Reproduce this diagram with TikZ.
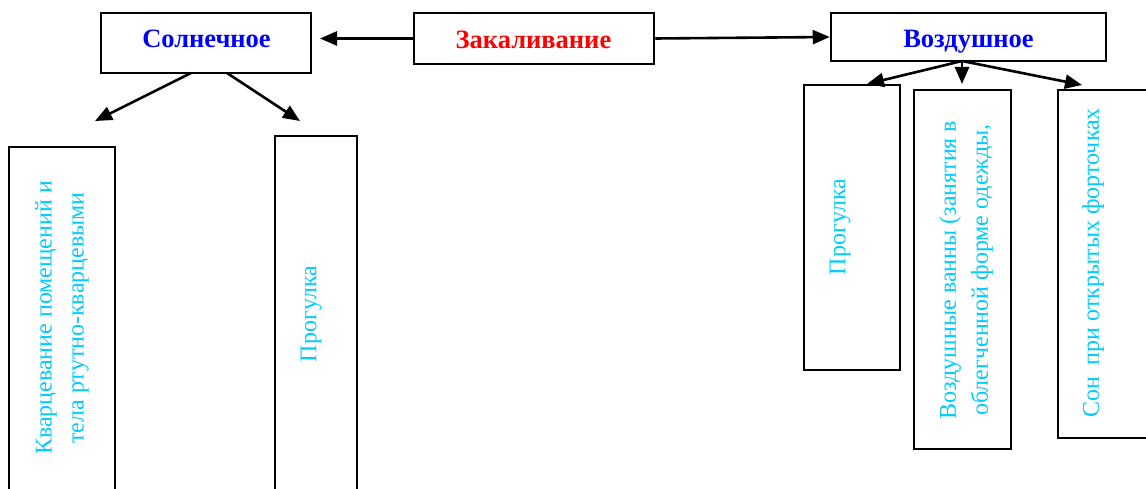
\documentclass[tikz,border=0pt]{standalone}
\usepackage{fontspec}
\setmainfont{Liberation Serif}
\usetikzlibrary{arrows.meta}
\definecolor{titleblue}{RGB}{0,0,255}
\definecolor{titlered}{RGB}{255,0,0}
\definecolor{itemcyan}{RGB}{0,204,255}
\begin{document}
\begin{tikzpicture}[x=1pt,y=-1pt,
  box/.style={draw,line width=2.5pt,inner sep=0pt},
  titletext/.style={font=\fontsize{26.5}{30}\selectfont\bfseries,anchor=base,inner sep=0pt},
  itemtext/.style={font=\fontsize{24}{32}\selectfont,text=itemcyan,rotate=90,align=center,inner sep=0pt},
  conn/.style={line width=2.6pt,-{Triangle[length=17pt,width=14pt]}}]
\useasboundingbox (0,0) rectangle (1146,489);
\clip (0,0) rectangle (1146,489);
% top row boxes
\node[box,minimum width=210pt,minimum height=60pt] (sol) at (206,43) {};
\node[box,minimum width=240pt,minimum height=51pt] (zak) at (534,38.5) {};
\node[box,minimum width=275pt,minimum height=48pt] (voz) at (968.5,37) {};
% titles
\node[titletext,text=titleblue] (solt) at (206.5,48) {Солнечное};
\node[titletext,text=titlered] (zakt) at (533.5,49) {Закаливание};
\node[titletext,text=titleblue] (vozt) at (968.5,48) {Воздушное};
% lower boxes
\node[box,minimum width=106pt,minimum height=363pt] (kv) at (62,328.5) {};
\node[box,minimum width=82pt,minimum height=374pt] (pa) at (316,323) {};
\node[box,minimum width=96pt,minimum height=285pt] (pb) at (852,227.5) {};
\node[box,minimum width=97pt,minimum height=359pt] (vv) at (962.5,269.5) {};
\node[box,minimum width=102pt,minimum height=348pt] (son) at (1109,264) {};
% texts
\node[itemtext] (kvt) at (62,318) {Кварцевание помещений и\\тела ртутно-кварцевыми};
\node[itemtext] (pat) at (311,314) {Прогулка};
\node[itemtext] (pbt) at (840,227) {Прогулка};
\node[itemtext] (vvt) at (966,270) {Воздушные ванны (занятия в\\облегченной форме одежды,};
\node[itemtext] (sont) at (1093,263) {Сон\ \ при открытых форточках};
% connector ends
\coordinate (solL) at (320,38.5);
\coordinate (s1a) at (191,73);
\coordinate (s1b) at (95,121);
\coordinate (s2a) at (227,73);
\coordinate (s2b) at (300,121);
\coordinate (va) at (962,61);
\coordinate (v1) at (867,84);
\coordinate (v2) at (962,84);
\coordinate (v3) at (1082,85);
% connectors
\draw[conn] (zak.west) -- (solL);
\draw[conn] (zak.east) -- (voz.west);
\draw[conn] (s1a) -- (s1b);
\draw[conn] (s2a) -- (s2b);
\draw[conn] (va) -- (v1);
\draw[conn] (va) -- (v2);
\draw[conn] (va) -- (v3);
\end{tikzpicture}
\end{document}
